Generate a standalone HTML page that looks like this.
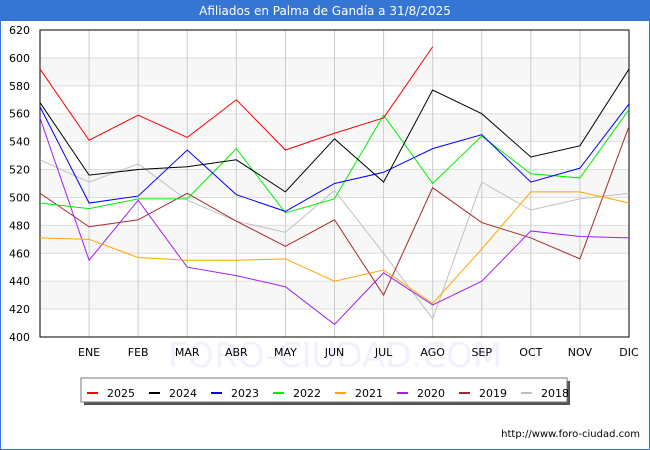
<!DOCTYPE html>
<html><head><meta charset="utf-8"><style>
body{margin:0;background:#fff;font-family:"DejaVu Sans","Liberation Sans",sans-serif;}
#wrap{position:relative;width:648px;height:448px;border:1px solid #3575d3;background:#fff;}
#title{position:absolute;left:0;top:0;width:648px;height:20px;background:#3575d3;color:#fff;font-size:12px;text-align:center;line-height:21px;z-index:2;}
svg{position:absolute;left:-1px;top:-1px;}
</style></head><body>
<div id="wrap">
<div id="title">Afiliados en Palma de Gandía a 31/8/2025</div>
<svg id="chart" width="650" height="450"></svg>
</div>
<script>
const months=["","ENE","FEB","MAR","ABR","MAY","JUN","JUL","AGO","SEP","OCT","NOV","DIC"];
const yTicks=[400,420,440,460,480,500,520,540,560,580,600,620];
const seriesNames=["2025","2024","2023","2022","2021","2020","2019","2018"];
const colors=["#ff0000","#000000","#0000ff","#00ee00","#ffa500","#a020f0","#a52a2a","#c0c0c0"];
const s2025=[592,541,559,543,570,534,546,557,608];
const s2024=[568,516,520,522,527,504,542,511,577,560,529,537,592];
const s2023=[565,496,501,534,502,490,510,518,535,545,511,521,567];
const s2022=[496,492,499,499,535,489,499,559,510,544,517,514,563];
const s2021=[471,470,457,455,455,456,440,448,424,463,504,504,496];
const s2020=[557,455,498,450,444,436,409,446,423,440,476,472,471];
const s2019=[503,479,484,503,483,465,484,430,507,482,471,456,551];
const s2018=[527,511,524,498,483,475,505,460,413,511,491,499,503];
const allSeries=[s2025,s2024,s2023,s2022,s2021,s2020,s2019,s2018];
const NS="http://www.w3.org/2000/svg";
const svg=document.getElementById('chart');
const L=40,R=629,T=30,B=337;
const xS=i=>L+i*(R-L)/12;
const yS=v=>B-(v-400)*(B-T)/220;
function mk(t,a,p){const e=document.createElementNS(NS,t);for(const k in a)e.setAttribute(k,a[k]);(p||svg).appendChild(e);return e;}
const wm=mk('text',{x:335,y:367,'text-anchor':'middle','font-size':34,fill:'#f1f1fd'});wm.textContent='FORO-CIUDAD.COM';

for(let i=0;i<yTicks.length-1;i++){
 if(i%2==1){const r=mk('rect',{x:L,y:yS(yTicks[i+1]),width:R-L,height:yS(yTicks[i])-yS(yTicks[i+1]),fill:'#f7f7f7'});
 }
}
yTicks.forEach(v=>{const l=mk('line',{x1:L,x2:R,y1:yS(v),y2:yS(v),stroke:'#dddddd'});
 
 const t=mk('text',{x:L-10,y:yS(v)+4,'text-anchor':'end','font-size':11,fill:'#000'});t.textContent=v;
 });
months.forEach((m,i)=>{const l=mk('line',{x1:xS(i),x2:xS(i),y1:T,y2:B,stroke:'#cccccc'});
 
 if(m){const t=mk('text',{x:xS(i),y:B+19,'text-anchor':'middle','font-size':11,fill:'#000'});t.textContent=m;
 }});
const ax=mk('rect',{x:L,y:T,width:R-L,height:B-T,fill:'none',stroke:'#000'});

for(let k=allSeries.length-1;k>=0;k--){
 const pts=allSeries[k].map((v,i)=>xS(i)+','+yS(v)).join(' ');
 const pl=mk('polyline',{points:pts,fill:'none',stroke:colors[k],'stroke-width':1});
 
}
const lg=mk('g',{});
mk('rect',{x:84,y:381,width:486,height:24,fill:'#555'},lg);
mk('rect',{x:81,y:378,width:486,height:24,fill:'#fff',stroke:'#777'},lg);
seriesNames.forEach((n,i)=>{const x=87+i*62;
 mk('line',{x1:x,x2:x+11,y1:393,y2:393,stroke:colors[i],'stroke-width':2},lg);
 const t=mk('text',{x:x+20,y:397,'font-size':11,fill:'#000'},lg);t.textContent=n;
 });
const u=mk('text',{x:640,y:437,'text-anchor':'end','font-size':10,fill:'#000'});u.textContent='http://www.foro-ciudad.com';

</script>
</body></html>
